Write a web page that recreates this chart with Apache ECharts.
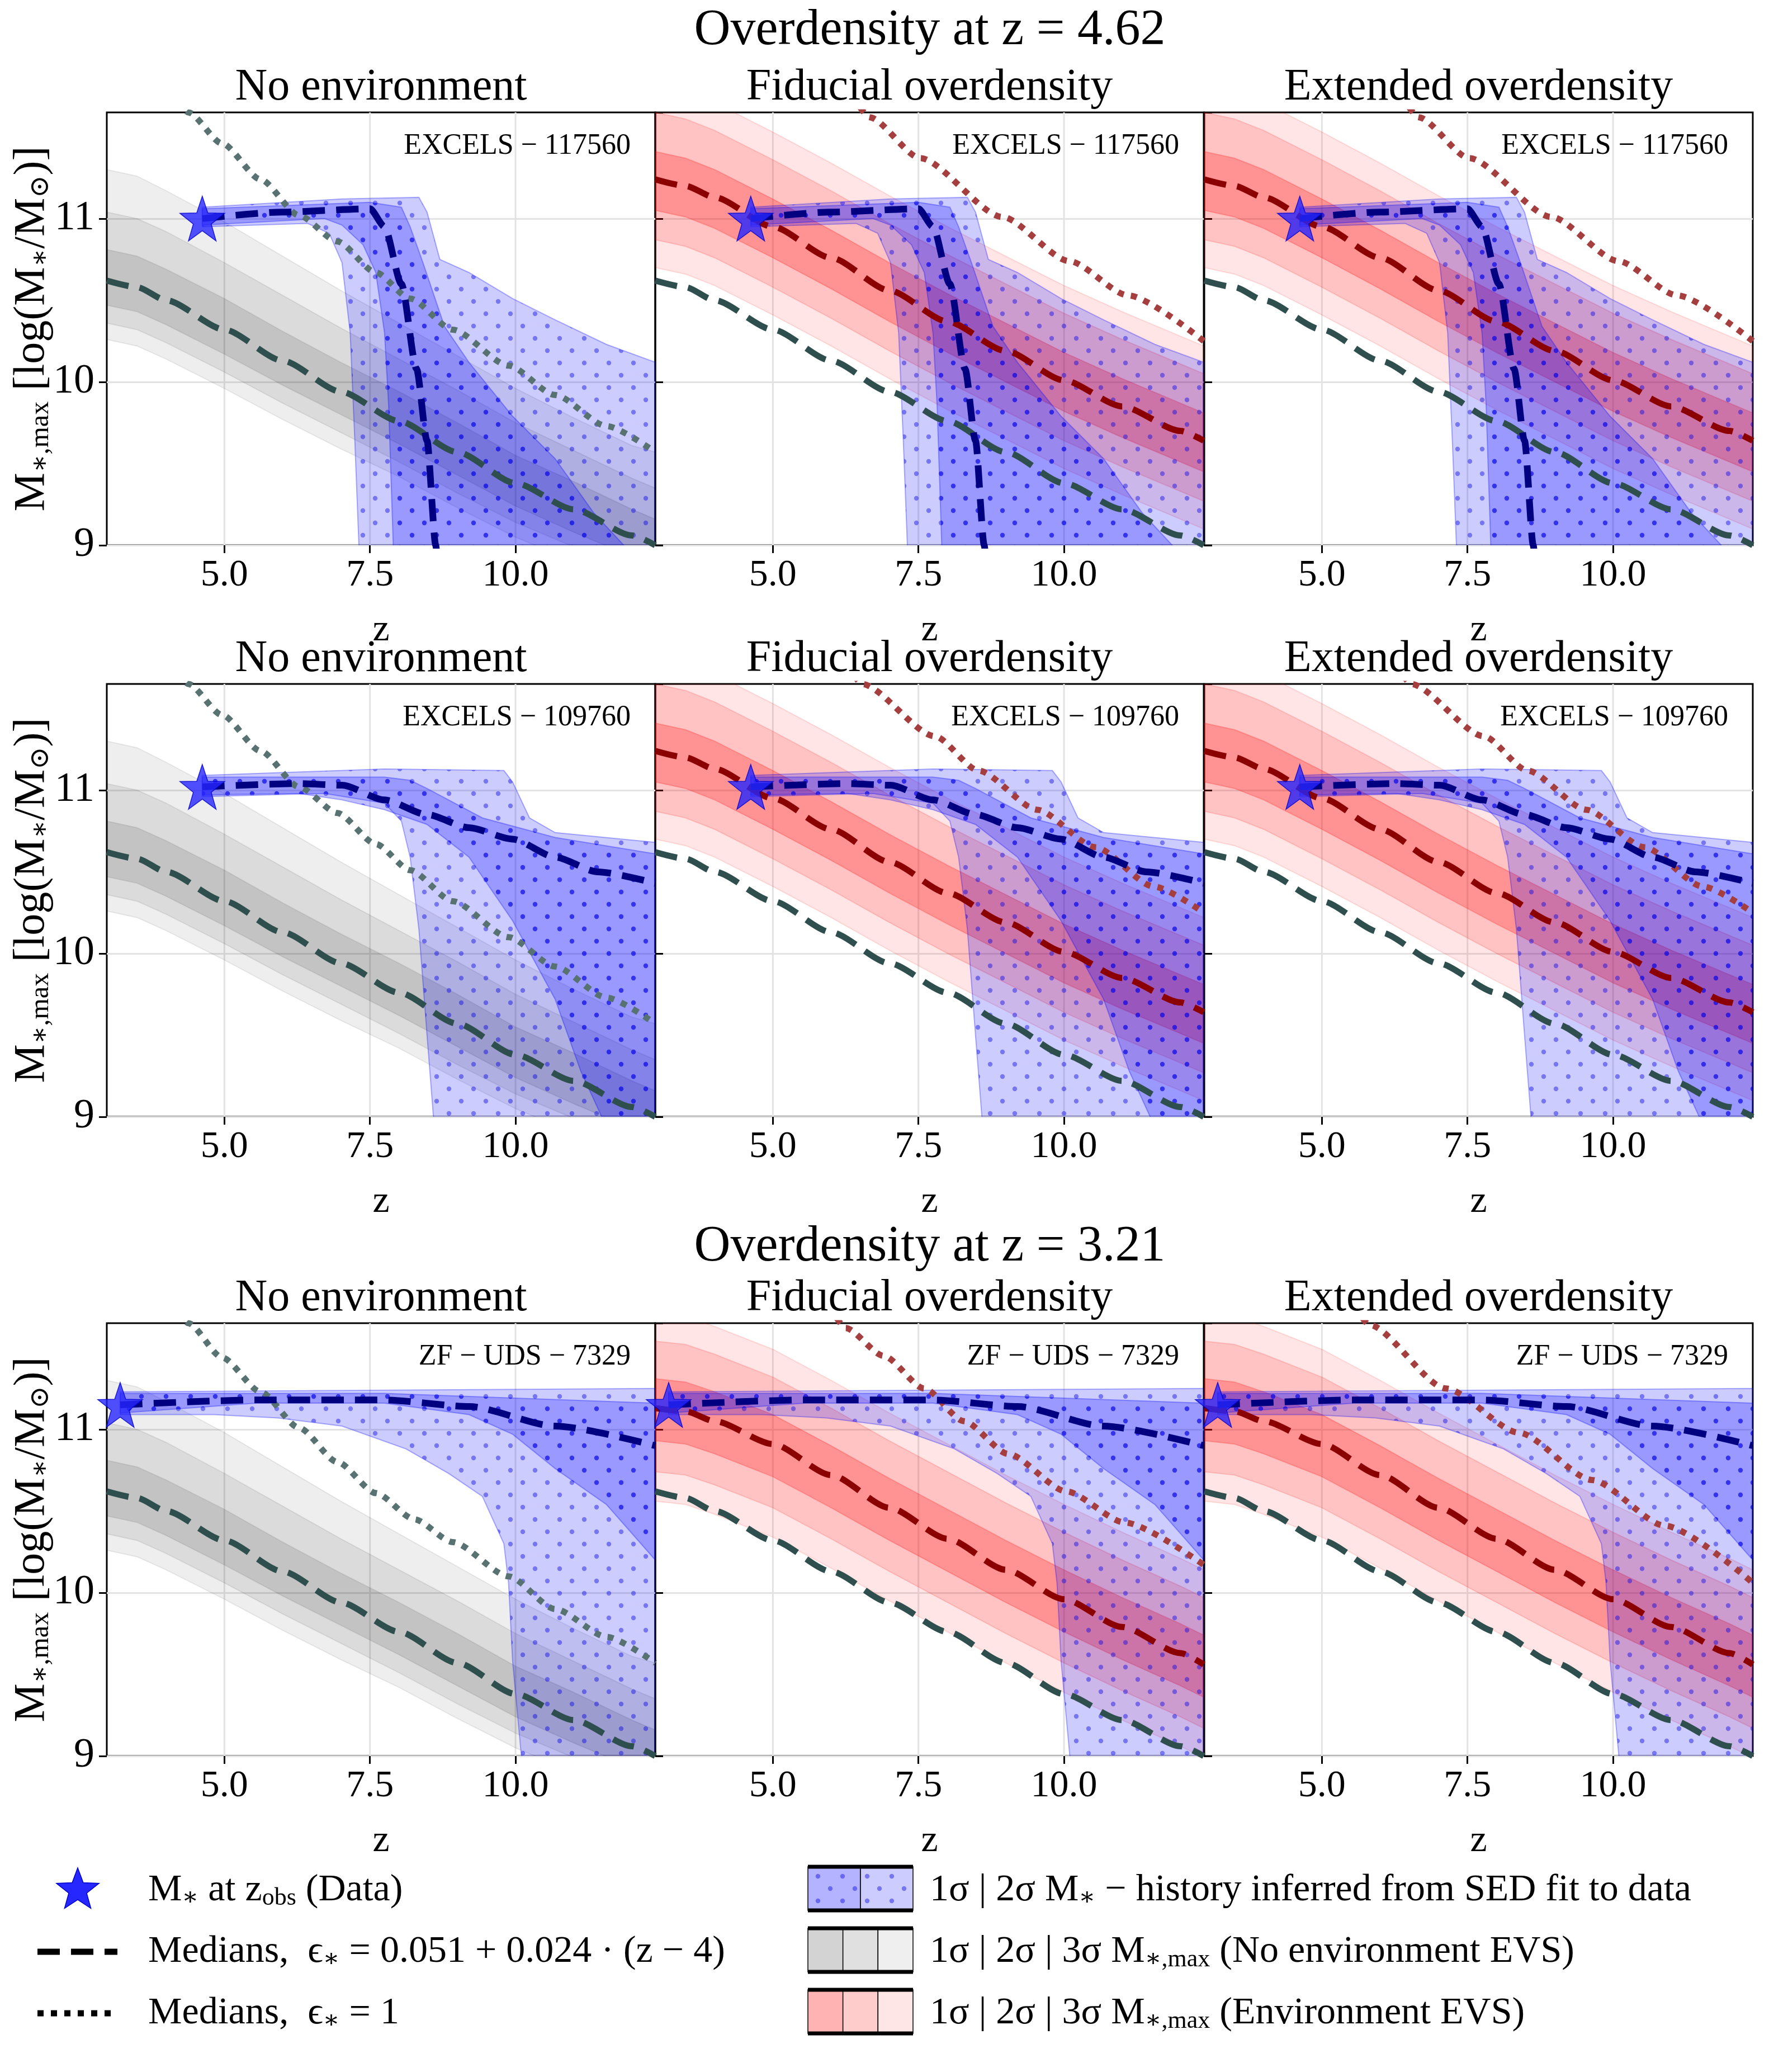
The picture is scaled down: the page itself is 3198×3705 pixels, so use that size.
<!DOCTYPE html>
<html>
<head>
<meta charset="utf-8">
<script src="https://cdn.jsdelivr.net/npm/echarts@6/dist/echarts.min.js"></script>
<style>html,body{margin:0;padding:0;background:#fff}#main{width:3198px;height:3705px}</style>
</head>
<body>
<div id="main"></div>
<script>
// ---- data ----
var colTitles = ['No environment', 'Fiducial overdensity', 'Extended overdensity'];
var sources = ['EXCELS − 117560', 'EXCELS − 109760', 'ZF − UDS − 7329'];
var xTicks = [5, 7.5, 10];
var starZ = [4.62, 4.62, 3.21];
var starM = [11.0, 11.02, 11.15];

// EVS grid (shared z sampling)
var zGrid = [2.98, 3.5, 4, 5, 6, 7, 8, 9, 10, 11, 12, 12.4];
// no environment EVS (same in all rows)
var grayMed = [10.62, 10.58, 10.50, 10.32, 10.13, 9.94, 9.76, 9.57, 9.38, 9.22, 9.06, 9.00];
var gray1Up = [10.81, 10.77, 10.69, 10.51, 10.31, 10.12, 9.94, 9.75, 9.55, 9.39, 9.22, 9.16];
var gray1Lo = [10.47, 10.43, 10.35, 10.17, 9.98, 9.80, 9.62, 9.43, 9.24, 9.08, 8.93, 8.87];
var gray2Up = [11.04, 11.00, 10.92, 10.73, 10.53, 10.33, 10.14, 9.95, 9.75, 9.58, 9.41, 9.35];
var gray2Lo = [10.36, 10.32, 10.24, 10.06, 9.87, 9.69, 9.51, 9.32, 9.14, 8.99, 8.84, 8.78];
var gray3Up = [11.30, 11.26, 11.17, 10.98, 10.77, 10.56, 10.36, 10.16, 9.96, 9.78, 9.61, 9.57];
var gray3Lo = [10.26, 10.22, 10.14, 9.96, 9.77, 9.59, 9.42, 9.23, 9.05, 8.90, 8.76, 8.70];
// environment EVS, z = 4.62 overdensity (rows 1 and 2)
var redMedA = [11.24, 11.20, 11.13, 10.95, 10.76, 10.56, 10.37, 10.19, 10.01, 9.85, 9.70, 9.64];
var redA1Up = [11.41, 11.37, 11.30, 11.12, 10.93, 10.73, 10.54, 10.36, 10.18, 10.02, 9.87, 9.81];
var redA1Lo = [11.05, 11.01, 10.94, 10.76, 10.57, 10.37, 10.18, 10.00, 9.82, 9.66, 9.51, 9.45];
var redA2Up = [11.65, 11.61, 11.54, 11.36, 11.17, 10.97, 10.78, 10.60, 10.42, 10.26, 10.11, 10.05];
var redA2Lo = [10.87, 10.83, 10.76, 10.58, 10.39, 10.19, 10.00, 9.82, 9.64, 9.48, 9.33, 9.27];
var redA3Up = [11.82, 11.78, 11.71, 11.53, 11.34, 11.14, 10.95, 10.77, 10.59, 10.43, 10.28, 10.22];
var redA3Lo = [10.70, 10.66, 10.59, 10.41, 10.22, 10.02, 9.83, 9.65, 9.47, 9.31, 9.16, 9.10];
// environment EVS, z = 3.21 overdensity (row 3)
var redMedB = [11.13, 11.11, 11.05, 10.91, 10.72, 10.52, 10.33, 10.14, 9.96, 9.79, 9.63, 9.56];
var redB1Up = [11.31, 11.29, 11.23, 11.09, 10.90, 10.70, 10.51, 10.32, 10.14, 9.97, 9.81, 9.74];
var redB1Lo = [10.93, 10.91, 10.85, 10.71, 10.52, 10.32, 10.13, 9.94, 9.76, 9.59, 9.43, 9.36];
var redB2Up = [11.54, 11.52, 11.46, 11.32, 11.13, 10.93, 10.74, 10.55, 10.37, 10.20, 10.04, 9.97];
var redB2Lo = [10.74, 10.72, 10.66, 10.52, 10.33, 10.13, 9.94, 9.75, 9.57, 9.40, 9.24, 9.17];
var redB3Up = [11.71, 11.69, 11.63, 11.49, 11.30, 11.10, 10.91, 10.72, 10.54, 10.37, 10.21, 10.14];
var redB3Lo = [10.56, 10.54, 10.48, 10.34, 10.15, 9.95, 9.76, 9.57, 9.39, 9.22, 9.06, 8.99];

// medians with eps = 1 (dotted)
var grayDotA = [[4.2, 11.72], [4.38, 11.65], [4.96, 11.46], [5.62, 11.24], [6.28, 11.02], [6.94, 10.86], [7.6, 10.67], [8.19, 10.51], [8.92, 10.32], [9.88, 10.10], [10.68, 9.92], [11.56, 9.73], [12.4, 9.57]];
var grayDotB = [[4.2, 11.72], [4.38, 11.65], [4.96, 11.44], [5.62, 11.23], [6.28, 11.01], [6.94, 10.80], [7.6, 10.61], [8.26, 10.45], [8.92, 10.31], [9.88, 10.10], [10.68, 9.90], [11.56, 9.73], [12.4, 9.57]];
var redDotA = [[6.5, 11.68], [6.66, 11.62], [7.53, 11.37], [8.94, 11.01], [10.09, 10.74], [11.1, 10.53], [12.4, 10.25]];
var redDotB = [[6.4, 11.70], [6.53, 11.65], [7.78, 11.33], [8.53, 11.12], [9.54, 10.88], [10.54, 10.65], [11.54, 10.41], [12.4, 10.25]];
var redDotC = [[6.1, 11.68], [6.25, 11.62], [6.9, 11.45], [7.6, 11.25], [8.28, 11.05], [9.04, 10.85], [10.04, 10.62], [11.04, 10.43], [12.4, 10.17]];
var redDotCext = [[5.7, 11.68], [5.81, 11.64], [7.13, 11.25], [8.38, 10.98], [9.64, 10.69], [10.89, 10.41], [12.4, 10.06]];

// M* history from SED fit
var blueMed1 = [[4.62, 11.0], [6, 11.04], [7.5, 11.06], [7.75, 10.95], [8.04, 10.6], [8.3, 10.08], [8.48, 9.64], [8.63, 9.0], [8.66, 8.9]];
var blue1Up1 = [[4.62, 11.06], [7.5, 11.1], [8.04, 11.07], [8.19, 10.95], [8.41, 10.73], [8.78, 10.34], [9.2, 10.12], [9.95, 9.79], [10.68, 9.53], [11.34, 9.2], [11.86, 9.0], [12.0, 8.9]];
var blue1Lo1 = [[4.62, 10.96], [6.72, 11.0], [7.02, 10.96], [7.38, 10.84], [7.6, 10.67], [7.75, 10.3], [7.82, 9.86], [7.9, 9.0], [7.9, 8.9]];
var blue2Up1 = [[4.62, 11.07], [7.02, 11.12], [8.34, 11.13], [8.48, 11.04], [8.7, 10.75], [9.2, 10.67], [9.95, 10.51], [10.68, 10.38], [11.56, 10.23], [12.4, 10.12], [12.4, 8.9]];
var blue2Lo1 = [[4.62, 10.95], [6.43, 10.97], [6.8, 10.91], [7.02, 10.73], [7.16, 10.3], [7.24, 9.64], [7.31, 9.0], [7.31, 8.9]];

var blueMed2 = [[4.62, 11.02], [6.28, 11.04], [7.02, 11.03], [7.75, 10.94], [8.48, 10.85], [9.2, 10.77], [9.95, 10.70], [10.68, 10.59], [11.41, 10.50], [12.4, 10.43]];
var blue1Up2 = [[4.62, 11.08], [7.75, 11.08], [8.19, 11.06], [8.48, 11.01], [8.85, 10.94], [9.43, 10.83], [10.68, 10.71], [12.4, 10.61], [12.4, 8.9]];
var blue1Lo2 = [[4.62, 10.97], [6.28, 10.98], [7.02, 10.94], [7.75, 10.88], [8.48, 10.79], [9.2, 10.59], [9.95, 10.2], [10.68, 9.72], [11.12, 9.28], [11.48, 9.0], [11.5, 8.9]];
var blue2Up2 = [[4.62, 11.09], [7.75, 11.13], [9.8, 11.12], [9.95, 11.05], [10.24, 10.83], [10.68, 10.74], [12.4, 10.68], [12.4, 8.9]];
var blue2Lo2 = [[4.62, 10.96], [6.72, 10.98], [7.75, 10.92], [8.04, 10.81], [8.19, 10.59], [8.34, 10.15], [8.48, 9.5], [8.59, 9.0], [8.6, 8.9]];

var blueMed3 = [[3.21, 11.15], [5.55, 11.18], [7.75, 11.18], [9.2, 11.14], [10.68, 11.02], [12.4, 10.9]];
var blue1Up3 = [[3.21, 11.22], [7.75, 11.22], [12.4, 11.16]];
var blue1Lo3 = [[3.21, 11.1], [5.55, 11.16], [7.75, 11.16], [9.2, 11.09], [9.95, 10.97], [10.68, 10.76], [11.56, 10.54], [12.4, 10.2]];
var blue2Up3 = [[3.21, 11.23], [12.4, 11.25], [12.4, 8.9]];
var blue2Lo3 = [[3.21, 11.09], [4.82, 11.09], [5.92, 11.07], [7.02, 11.02], [8.12, 10.88], [8.85, 10.73], [9.43, 10.59], [9.8, 10.3], [9.88, 10.06], [9.95, 9.58], [10.1, 9.0], [10.1, 8.9]];

// ---- layout ----
var FONT = '"Liberation Serif", "DejaVu Serif", serif';
var colLeft = [191, 1172, 2154], panelW = 981;
var rowTop = [201, 1223, 2366], panelH = 774;

var rows = [
    { blue: [blueMed1, blue1Up1, blue1Lo1, blue2Up1, blue2Lo1], grayDot: grayDotA, redDot: [redDotA, redDotA],
      red: [redMedA, redA1Up, redA1Lo, redA2Up, redA2Lo, redA3Up, redA3Lo] },
    { blue: [blueMed2, blue1Up2, blue1Lo2, blue2Up2, blue2Lo2], grayDot: grayDotA, redDot: [redDotB, redDotB],
      red: [redMedA, redA1Up, redA1Lo, redA2Up, redA2Lo, redA3Up, redA3Lo] },
    { blue: [blueMed3, blue1Up3, blue1Lo3, blue2Up3, blue2Lo3], grayDot: grayDotB, redDot: [redDotC, redDotCext],
      red: [redMedB, redB1Up, redB1Lo, redB2Up, redB2Lo, redB3Up, redB3Lo] }
];

function zip(ys) { return zGrid.map(function (z, i) { return [z, ys[i]]; }); }

// dot hatch pattern
var pat = document.createElement('canvas');
pat.width = 44; pat.height = 44;
(function () {
    var c = pat.getContext('2d');
    c.fillStyle = 'rgba(0,0,230,0.42)';
    [[11, 11], [33, 33]].forEach(function (p) { c.beginPath(); c.arc(p[0], p[1], 4.2, 0, Math.PI * 2); c.fill(); });
})();

function band(g, up, lo, fill, stroke, dots, z) {
    return {
        type: 'custom', xAxisIndex: g, yAxisIndex: g, clip: true, silent: true, z: z,
        data: [up[0]],
        renderItem: function (params, api) {
            var pts = up.map(function (q) { return api.coord(q); })
                .concat(lo.slice().reverse().map(function (q) { return api.coord(q); }));
            var kids = [{ type: 'polygon', shape: { points: pts }, style: { fill: fill, stroke: stroke, lineWidth: 2 } }];
            if (dots) kids.push({ type: 'polygon', shape: { points: pts }, style: { fill: { image: pat, repeat: 'repeat' } } });
            return { type: 'group', children: kids };
        }
    };
}
function line(g, data, color, width, dash, z) {
    return {
        type: 'line', xAxisIndex: g, yAxisIndex: g, data: data, showSymbol: false, smooth: 0.25,
        smoothMonotone: 'x', silent: true, z: z, clip: true,
        lineStyle: { color: color, width: width, type: dash, cap: 'butt' }
    };
}

var grids = [], xAxes = [], yAxes = [], series = [], graphics = [];
for (var r = 0; r < 3; r++) {
    for (var c = 0; c < 3; c++) {
        var g = r * 3 + c, R = rows[r];
        grids.push({ left: colLeft[c], top: rowTop[r], width: panelW, height: panelH, show: true,
            borderColor: '#000', borderWidth: 3, backgroundColor: 'transparent' });
        xAxes.push({ type: 'value', gridIndex: g, min: 2.98, max: 12.4,
            axisLine: { show: false },
            axisTick: { customValues: xTicks, length: 14, lineStyle: { color: '#000', width: 3 } },
            axisLabel: { customValues: xTicks, fontFamily: FONT, fontSize: 68, color: '#000', margin: 20,
                formatter: function (v) { return v.toFixed(1); } },
            splitLine: { show: false },
            name: 'z', nameLocation: 'middle', nameGap: 118,
            nameTextStyle: { fontFamily: FONT, fontSize: 68, color: '#000' } });
        yAxes.push({ type: 'value', gridIndex: g, min: 9, max: 11.65, interval: 1,
            axisLine: { show: false },
            axisTick: { show: true, inside: c > 0, length: 14, lineStyle: { color: '#000', width: 3 } },
            axisLabel: { show: c === 0, showMaxLabel: false, fontFamily: FONT, fontSize: 74, color: '#000', margin: 22,
                formatter: function (v) { return Math.abs(v - Math.round(v)) < 1e-6 ? String(Math.round(v)) : ''; } },
            splitLine: { show: true, showMaxLine: false, lineStyle: { color: '#e3e3e3', width: 3 } } });

        // vertical grid lines at the x ticks
        xTicks.forEach(function (t) {
            series.push(line(g, [[t, 9], [t, 11.65]], '#e3e3e3', 3, 'solid', 1));
        });

        if (c === 0) {
            series.push(band(g, zip(gray3Up), zip(gray3Lo), 'rgba(0,0,0,0.065)', 'rgba(0,0,0,0.08)', false, 2));
            series.push(band(g, zip(gray2Up), zip(gray2Lo), 'rgba(0,0,0,0.08)', 'rgba(0,0,0,0.08)', false, 2));
            series.push(band(g, zip(gray1Up), zip(gray1Lo), 'rgba(0,0,0,0.11)', 'rgba(0,0,0,0.08)', false, 2));
        } else {
            series.push(band(g, zip(R.red[5]), zip(R.red[6]), 'rgba(255,0,0,0.1)', 'rgba(255,0,0,0.12)', false, 2));
            series.push(band(g, zip(R.red[3]), zip(R.red[4]), 'rgba(255,0,0,0.15)', 'rgba(255,0,0,0.15)', false, 2));
            series.push(band(g, zip(R.red[1]), zip(R.red[2]), 'rgba(255,0,0,0.25)', 'rgba(255,0,0,0.2)', false, 2));
        }
        series.push(band(g, R.blue[3], R.blue[4], 'rgba(0,0,255,0.2)', 'rgba(0,0,255,0.3)', true, 3));
        series.push(band(g, R.blue[1], R.blue[2], 'rgba(0,0,255,0.25)', 'rgba(0,0,255,0.3)', true, 3));

        series.push(line(g, zip(grayMed), '#2f4f4f', 11, [40, 20], 5));
        if (c === 0) {
            series.push(line(g, R.grayDot, '#587272', 11, [11, 13], 5));
        } else {
            series.push(line(g, zip(R.red[0]), '#8b0000', 11, [40, 20], 5));
            series.push(line(g, R.redDot[c - 1], '#a53f3f', 11, [11, 13], 5));
        }
        series.push(line(g, R.blue[0], '#000080', 12, [40, 20], 6));
        series.push({ type: 'scatter', xAxisIndex: g, yAxisIndex: g, data: [[starZ[r], starM[r]]], symbol: 'path://M0,-10 L2.35,-3.24 L9.51,-3.09 L3.8,1.24 L5.88,8.09 L0,4 L-5.88,8.09 L-3.8,1.24 L-9.51,-3.09 L-2.35,-3.24 Z',
            symbolSize: 80, itemStyle: { color: '#2626ff', borderColor: '#0000cc', borderWidth: 1.5 }, z: 7, silent: true });

        graphics.push({ type: 'text', x: colLeft[c] + panelW / 2, y: rowTop[r] - 44,
            style: { text: colTitles[c], font: '80px ' + FONT, fill: '#000', textAlign: 'center', textVerticalAlign: 'middle' } });
        graphics.push({ type: 'text', x: colLeft[c] + panelW - 44, y: rowTop[r] + 60, z: 20,
            style: { text: sources[r], font: '52px ' + FONT, fill: '#000', textAlign: 'right', textVerticalAlign: 'middle' } });
    }
    graphics.push({ type: 'text', x: 58, y: rowTop[r] + panelH / 2, rotation: Math.PI / 2,
        style: { text: 'M{s|∗,max} [log(M{s|∗}/M{s|⊙})]', font: '78px ' + FONT, fill: '#000',
            textAlign: 'center', textVerticalAlign: 'middle',
            rich: { s: { fontSize: 48, fontFamily: FONT, padding: [30, 0, 0, 0] } } } });
}
graphics.push({ type: 'text', x: 1663, y: 55, style: { text: 'Overdensity at z = 4.62', font: '90px ' + FONT, fill: '#000', textAlign: 'center', textVerticalAlign: 'middle' } });
graphics.push({ type: 'text', x: 1663, y: 2230, style: { text: 'Overdensity at z = 3.21', font: '90px ' + FONT, fill: '#000', textAlign: 'center', textVerticalAlign: 'middle' } });

// ---- legend ----
function starPts(cx, cy, R) {
    var p = [];
    for (var i = 0; i < 10; i++) {
        var a = -Math.PI / 2 + i * Math.PI / 5, rr = i % 2 ? R * 0.42 : R;
        p.push([cx + rr * Math.cos(a), cy + rr * Math.sin(a)]);
    }
    return p;
}
var legRich = { s: { fontSize: 44, fontFamily: FONT, padding: [28, 0, 0, 0] } };
function legText(x, y, t) {
    return { type: 'text', x: x, y: y, style: { text: t, font: '68px ' + FONT, fill: '#000', textVerticalAlign: 'middle', rich: legRich } };
}
graphics.push({ type: 'polygon', shape: { points: starPts(139, 3380, 40) }, style: { fill: '#2626ff', stroke: '#0000cc', lineWidth: 1.5 } });
graphics.push(legText(265, 3380, 'M{s|∗} at z{s|obs} (Data)'));
graphics.push({ type: 'line', shape: { x1: 67, y1: 3490, x2: 210, y2: 3490 }, style: { stroke: '#000', lineWidth: 11, lineDash: [40, 20] } });
graphics.push(legText(265, 3490, 'Medians,  ϵ{s|∗} = 0.051 + 0.024 · (z − 4)'));
graphics.push({ type: 'line', shape: { x1: 67, y1: 3600, x2: 210, y2: 3600 }, style: { stroke: '#000', lineWidth: 11, lineDash: [11, 13] } });
graphics.push(legText(265, 3600, 'Medians,  ϵ{s|∗} = 1'));

function swatch(y0, fills, dots) {
    var x0 = 1445, w = 188, h = 78, n = fills.length;
    fills.forEach(function (f, i) {
        graphics.push({ type: 'rect', shape: { x: x0 + i * w / n, y: y0, width: w / n, height: h }, style: { fill: f, stroke: '#000', lineWidth: 1.5 } });
        if (dots) graphics.push({ type: 'rect', shape: { x: x0 + i * w / n, y: y0, width: w / n, height: h }, style: { fill: { image: pat, repeat: 'repeat' } } });
    });
    graphics.push({ type: 'line', shape: { x1: x0, y1: y0, x2: x0 + w, y2: y0 }, style: { stroke: '#000', lineWidth: 7 } });
    graphics.push({ type: 'line', shape: { x1: x0, y1: y0 + h, x2: x0 + w, y2: y0 + h }, style: { stroke: '#000', lineWidth: 7 } });
}
swatch(3338, ['#b3b3ff', '#ccccff'], true);
swatch(3448, ['#d3d3d3', '#e0e0e0', '#efefef'], false);
swatch(3558, ['#ffb3b3', '#ffcccc', '#ffe6e6'], false);
graphics.push(legText(1663, 3380, '1σ | 2σ M{s|∗} − history inferred from SED fit to data'));
graphics.push(legText(1663, 3490, '1σ | 2σ | 3σ M{s|∗,max} (No environment EVS)'));
graphics.push(legText(1663, 3600, '1σ | 2σ | 3σ M{s|∗,max} (Environment EVS)'));

var myChart = echarts.init(document.getElementById('main'));
myChart.setOption({
    animation: false,
    backgroundColor: '#fff',
    grid: grids, xAxis: xAxes, yAxis: yAxes, series: series, graphic: graphics
});
</script>
</body>
</html>
